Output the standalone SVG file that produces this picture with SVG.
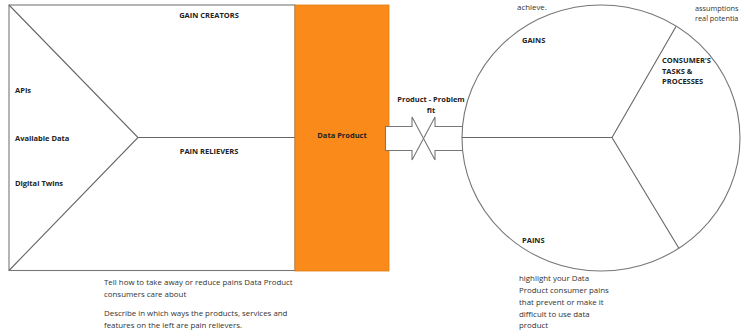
<svg xmlns="http://www.w3.org/2000/svg" width="741" height="331" viewBox="0 0 741 331">
<style>
.ln{fill:none;stroke:#666;stroke-width:1.1}
.bx{fill:#fff;stroke:#777;stroke-width:1.1}
.b{font-family:"Open Sans","Liberation Sans",sans-serif;font-size:7.5px;font-weight:bold;fill:#222}
.t{font-family:"Open Sans","Liberation Sans",sans-serif;font-size:7.9px;fill:#333}
.s{font-family:"Open Sans","Liberation Sans",sans-serif;font-size:7.3px;fill:#333}
</style>
<rect width="741" height="331" fill="#fff"/>
<g id="value-map">
<rect class="bx" x="9" y="5" width="286" height="265.5"/>
<polyline class="ln" points="9,5 138,137.5 9,270.5"/>
<line class="ln" x1="138" y1="137.5" x2="295" y2="137.5"/>
<text class="b" x="209" y="18" text-anchor="middle">GAIN CREATORS</text>
<text class="b" x="209" y="154" text-anchor="middle">PAIN RELIEVERS</text>
<text class="b" x="15" y="93">APIs</text>
<text class="b" x="15" y="141">Available Data</text>
<text class="b" x="15" y="186">Digital Twins</text>
<text class="t" x="104" y="285">Tell how to take away or reduce pains Data Product</text>
<text class="t" x="104" y="297">consumers care about</text>
<text class="t" x="104" y="316">Describe in which ways the products, services and</text>
<text class="t" x="104" y="328">features on the left are pain relievers.</text>
</g>
<g id="data-product">
<rect x="295" y="5" width="94" height="266" fill="#fa8a1a" stroke="#e07a12" stroke-width="0.8"/>
<text class="b" x="342" y="138" text-anchor="middle" fill="#3a1a00">Data Product</text>
</g>
<g id="connectors">
<polygon class="bx" points="385.5,126.5 412,126.5 412,117 423.5,138.5 412,160 412,150.5 385.5,150.5"/>
<polygon class="bx" points="463,126.5 435,126.5 435,117 423.5,138.5 435,160 435,150.5 463,150.5"/>
<text class="b" x="431" y="102" text-anchor="middle">Product - Problem</text>
<text class="b" x="431" y="113" text-anchor="middle">fit</text>
</g>
<g id="customer-profile">
<ellipse class="bx" cx="601" cy="138" rx="139" ry="133"/>
<polyline class="ln" points="462,137.5 612,137.5 676,26.5"/>
<line class="ln" x1="612" y1="137.5" x2="679" y2="248.5"/>
<text class="b" x="522" y="43">GAINS</text>
<text class="b" x="662" y="63">CONSUMER'S</text>
<text class="b" x="662" y="74">TASKS &amp;</text>
<text class="b" x="662" y="84">PROCESSES</text>
<text class="b" x="522" y="243">PAINS</text>
<text class="t" x="517" y="10">achieve.</text>
<text class="s" x="695" y="11">assumptions</text>
<text class="s" x="695" y="21">real potentia</text>
<text class="t" x="519" y="281">highlight your Data</text>
<text class="t" x="519" y="293">Product consumer pains</text>
<text class="t" x="519" y="305">that prevent or make it</text>
<text class="t" x="519" y="317">difficult to use data</text>
<text class="t" x="519" y="328">product</text>
</g>
</svg>
